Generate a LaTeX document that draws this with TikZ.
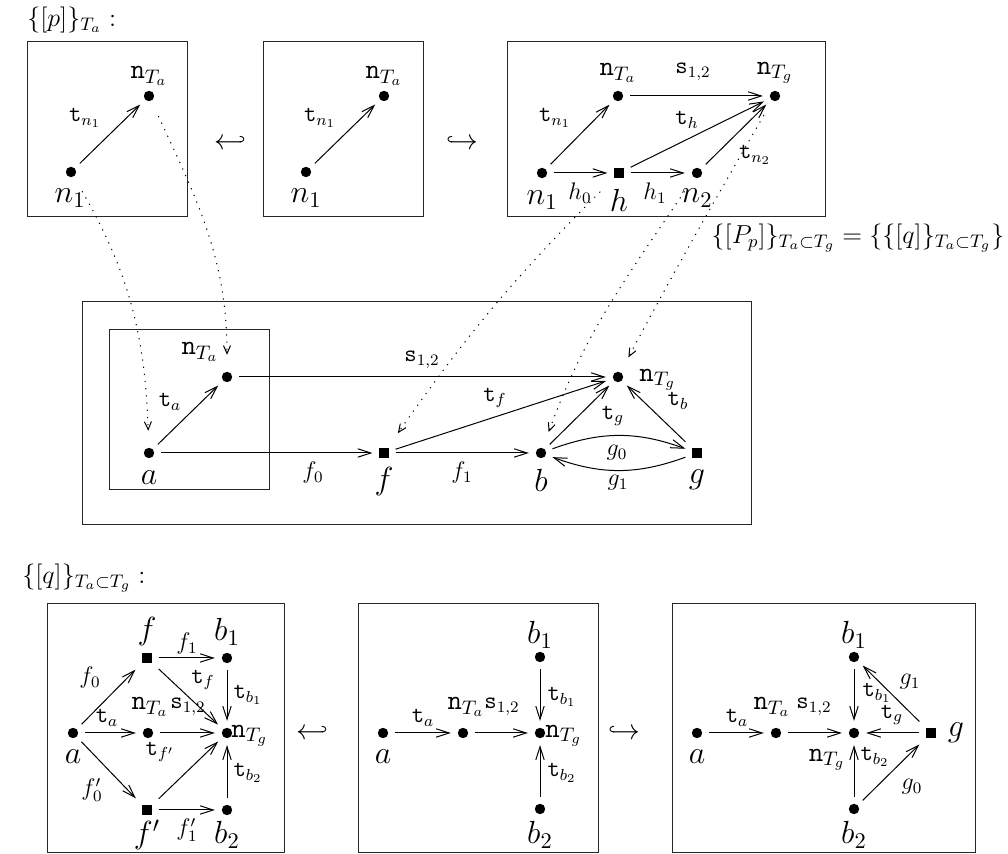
\RequirePackage{fix-cm}
\documentclass[tikz,border=0pt]{standalone}
\usepackage{amsmath,amssymb}
\usepackage{tikz}
\usetikzlibrary{arrows.meta}

\tikzset{
  dotnode/.style={circle, fill, inner sep=0pt, minimum size=5.2pt, outer sep=3.5pt},
  sqnode/.style={rectangle, fill, inner sep=0pt, minimum size=4.6pt, outer sep=3.5pt},
  arr/.style={-{Straight Barb[length=6.5pt,width=4.2pt]}, line width=0.5pt},
  dotarr/.style={-{Straight Barb[length=4pt,width=3.5pt]}, line width=0.5pt,
    dash pattern=on 0.6pt off 3pt, shorten >=5pt, shorten <=5pt},
  boxframe/.style={draw=black!85, line width=0.45pt},
  biglbl/.style={inner sep=0pt, font=\fontsize{16}{18}\selectfont},
  midlbl/.style={inner sep=0pt, font=\fontsize{14}{16}\selectfont},
  elbl/.style={inner sep=0pt, font=\fontsize{12}{14}\selectfont},
  ttl/.style={inner sep=0pt, font=\fontsize{13}{15}\selectfont},
  hook/.style={inner sep=0pt, font=\Large},
}

\begin{document}
\begin{tikzpicture}[x=0.5pt, y=-0.5pt]
\useasboundingbox (0,0) rectangle (1008,854);

% ---- top row: the pattern p and its inclusions
\node[ttl, anchor=west] (ttlp) at (27,20) {$\{[p]\}_{T_a}:$};
\draw[boxframe] (27,41) rectangle (187,216);
\node[dotnode] (n1A) at (71,172) {};
\node[dotnode] (nTaA) at (149,96) {};
\node[biglbl] (ln1A) at (70,198) {$n_1$};
\node[midlbl] (lnTaA) at (149,76) {$\mathtt{n}_{T_a}$};
\draw[arr] (n1A) -- (nTaA);
\node[elbl] (ltA) at (85,118) {$\mathtt{t}_{n_1}$};

\node[hook] (hk1) at (230,143) {$\hookleftarrow$};

\draw[boxframe] (263,41) rectangle (423,216);
\node[dotnode] (n1B) at (306,172) {};
\node[dotnode] (nTaB) at (384,96) {};
\node[biglbl] (ln1B) at (306,198) {$n_1$};
\node[midlbl] (lnTaB) at (384,76) {$\mathtt{n}_{T_a}$};
\draw[arr] (n1B) -- (nTaB);
\node[elbl] (ltB) at (320,118) {$\mathtt{t}_{n_1}$};

\node[hook] (hk2) at (462,143) {$\hookrightarrow$};

\draw[boxframe] (507,41) rectangle (825,216);
\node[dotnode] (n1C) at (542,173) {};
\node[sqnode] (hC) at (619,173) {};
\node[dotnode] (n2C) at (697,173) {};
\node[dotnode] (nTaC) at (618,96) {};
\node[dotnode] (nTgC) at (775,96) {};
\node[biglbl] (ln1C) at (542,200) {$n_1$};
\node[biglbl] (lhC) at (619,200) {$h$};
\node[biglbl] (ln2C) at (697,198) {$n_2$};
\node[midlbl] (lnTaC) at (618,73) {$\mathtt{n}_{T_a}$};
\node[midlbl] (lnTgC) at (775,73) {$\mathtt{n}_{T_g}$};
\draw[arr] (n1C) -- (nTaC);
\draw[arr] (n1C) -- (hC);
\draw[arr] (hC) -- (n2C);
\draw[arr] (nTaC) -- (nTgC);
\draw[arr] (hC) -- (nTgC);
\draw[arr] (n2C) -- (nTgC);
\node[elbl] (ltn1C) at (555,118) {$\mathtt{t}_{n_1}$};
\node[elbl] (lh0C) at (580,193) {$h_0$};
\node[elbl] (lh1C) at (655,193) {$h_1$};
\node[elbl] (ls12C) at (693,72) {$\mathtt{s}_{1,2}$};
\node[elbl] (lthC) at (687,120) {$\mathtt{t}_h$};
\node[elbl] (ltn2C) at (755,155) {$\mathtt{t}_{n_2}$};

\node[ttl] (eqn) at (858,238)
  {$\{[P_p]\}_{T_a\subset T_g} = \{\{[q]\}_{T_a\subset T_g}\}$};

% ---- middle: the pattern P_p
\draw[boxframe] (82,301) rectangle (751,524);
\draw[boxframe] (109,329) rectangle (269,489);
\node[dotnode] (aM) at (149,453) {};
\node[dotnode] (nTaM) at (227,377) {};
\node[sqnode] (fM) at (384,453) {};
\node[dotnode] (bM) at (541,453) {};
\node[sqnode] (gM) at (697,453) {};
\node[dotnode] (nTgM) at (618,377) {};
\node[biglbl] (laM) at (149,478) {$a$};
\node[midlbl] (lnTaM) at (200,352) {$\mathtt{n}_{T_a}$};
\node[biglbl] (lfM) at (384,482) {$f$};
\node[biglbl] (lbM) at (541,480) {$b$};
\node[biglbl] (lgM) at (697,480) {$g$};
\node[midlbl, anchor=west] (lnTgM) at (639,380) {$\mathtt{n}_{T_g}$};
\draw[arr] (aM) -- (nTaM);
\draw[arr] (aM) -- (fM);
\draw[arr] (nTaM) -- (nTgM);
\draw[arr] (fM) -- (nTgM);
\draw[arr] (fM) -- (bM);
\draw[arr] (bM) -- (nTgM);
\draw[arr] (gM) -- (nTgM);
\draw[arr] (bM) to[bend left=20] (gM);
\draw[arr] (gM) to[bend left=20] (bM);
\node[elbl] (ltaM) at (170,402) {$\mathtt{t}_a$};
\node[elbl] (lf0M) at (313,473) {$f_0$};
\node[elbl] (ls12M) at (422,360) {$\mathtt{s}_{1,2}$};
\node[elbl] (ltfM) at (495,398) {$\mathtt{t}_f$};
\node[elbl] (lf1M) at (462,473) {$f_1$};
\node[elbl] (ltgM) at (613,416) {$\mathtt{t}_g$};
\node[elbl] (ltbM) at (678,401) {$\mathtt{t}_b$};
\node[elbl] (lg0M) at (617,453) {$g_0$};
\node[elbl] (lg1M) at (618,483) {$g_1$};

% dotted maps from the top row into P_p
\draw[dotarr] (n1A) to[out=-60, in=92] (aM);
\draw[dotarr] (nTaA) to[out=-65, in=90] (nTaM);
\draw[dotarr] (hC) to[out=-135, in=55] (fM);
\draw[dotarr] (n2C) to[out=-124, in=70] (bM);
\draw[dotarr] (nTgC) to[out=-120, in=62] (nTgM);

% ---- bottom row: the pattern q and its inclusions
\node[ttl, anchor=west] (ttlq) at (22,578) {$\{[q]\}_{T_a\subset T_g}:$};
\draw[boxframe] (47,603) rectangle (284,852);
\node[dotnode] (aD) at (73,733) {};
\node[dotnode] (nTaD) at (148,733) {};
\node[dotnode] (nTgD) at (227,733) {};
\node[sqnode] (fD) at (147,658) {};
\node[dotnode] (b1D) at (227,658) {};
\node[sqnode] (fpD) at (147,810) {};
\node[dotnode] (b2D) at (227,810) {};
\node[biglbl] (laD) at (73,757) {$a$};
\node[midlbl] (lnTaD) at (150,707) {$\mathtt{n}_{T_a}$};
\node[midlbl, anchor=west] (lnTgD) at (231,736) {$\mathtt{n}_{T_g}$};
\node[biglbl] (lfD) at (147,632) {$f$};
\node[biglbl] (lb1D) at (227,632) {$b_1$};
\node[biglbl] (lfpD) at (147,835) {$f'$};
\node[biglbl] (lb2D) at (227,835) {$b_2$};
\draw[arr] (aD) -- (fD);
\draw[arr] (aD) -- (nTaD);
\draw[arr] (aD) -- (fpD);
\draw[arr] (fD) -- (b1D);
\draw[arr] (fD) -- (nTgD);
\draw[arr] (nTaD) -- (nTgD);
\draw[arr] (fpD) -- (nTgD);
\draw[arr] (fpD) -- (b2D);
\draw[arr] (b1D) -- (nTgD);
\draw[arr] (b2D) -- (nTgD);
\node[elbl] (lf0D) at (90,678) {$f_0$};
\node[elbl] (ltaD) at (107,718) {$\mathtt{t}_a$};
\node[elbl] (lf0pD) at (92,790) {$f'_0$};
\node[elbl] (lf1D) at (187,644) {$f_1$};
\node[elbl] (ltfD) at (203,680) {$\mathtt{t}_f$};
\node[elbl] (ls12D) at (188,707) {$\mathtt{s}_{1,2}$};
\node[elbl] (ltfpD) at (160,752) {$\mathtt{t}_{f'}$};
\node[elbl] (lf1pD) at (187,830) {$f'_1$};
\node[elbl] (ltb1D) at (248,695) {$\mathtt{t}_{b_1}$};
\node[elbl] (ltb2D) at (248,773) {$\mathtt{t}_{b_2}$};

\node[hook] (hk3) at (312,733) {$\hookleftarrow$};

\draw[boxframe] (358,603) rectangle (598,852);
\node[dotnode] (aE) at (383,733) {};
\node[dotnode] (nTaE) at (463,733) {};
\node[dotnode] (nTgE) at (540,733) {};
\node[dotnode] (b1E) at (540,657) {};
\node[dotnode] (b2E) at (540,809) {};
\node[biglbl] (laE) at (383,757) {$a$};
\node[midlbl] (lnTaE) at (466,707) {$\mathtt{n}_{T_a}$};
\node[midlbl, anchor=west] (lnTgE) at (545,736) {$\mathtt{n}_{T_g}$};
\node[biglbl] (lb1E) at (540,635) {$b_1$};
\node[biglbl] (lb2E) at (540,835) {$b_2$};
\draw[arr] (aE) -- (nTaE);
\draw[arr] (nTaE) -- (nTgE);
\draw[arr] (b1E) -- (nTgE);
\draw[arr] (b2E) -- (nTgE);
\node[elbl] (ltaE) at (423,718) {$\mathtt{t}_a$};
\node[elbl] (ls12E) at (502,707) {$\mathtt{s}_{1,2}$};
\node[elbl] (ltb1E) at (562,697) {$\mathtt{t}_{b_1}$};
\node[elbl] (ltb2E) at (562,773) {$\mathtt{t}_{b_2}$};

\node[hook] (hk4) at (624,733) {$\hookrightarrow$};

\draw[boxframe] (672,603) rectangle (975,852);
\node[dotnode] (aF) at (697,733) {};
\node[dotnode] (nTaF) at (776,733) {};
\node[dotnode] (nTgF) at (854,733) {};
\node[sqnode] (gF) at (931,733) {};
\node[dotnode] (b1F) at (854,657) {};
\node[dotnode] (b2F) at (854,809) {};
\node[biglbl] (laF) at (697,757) {$a$};
\node[midlbl] (lnTaF) at (772,707) {$\mathtt{n}_{T_a}$};
\node[midlbl] (lnTgF) at (827,760) {$\mathtt{n}_{T_g}$};
\node[biglbl] (lgF) at (956,733) {$g$};
\node[biglbl] (lb1F) at (854,635) {$b_1$};
\node[biglbl] (lb2F) at (854,835) {$b_2$};
\draw[arr] (aF) -- (nTaF);
\draw[arr] (nTaF) -- (nTgF);
\draw[arr] (b1F) -- (nTgF);
\draw[arr] (b2F) -- (nTgF);
\draw[arr] (gF) -- (nTgF);
\draw[arr] (gF) -- (b1F);
\draw[arr] (b2F) -- (gF);
\node[elbl] (ltaF) at (737,718) {$\mathtt{t}_a$};
\node[elbl] (ls12F) at (814,707) {$\mathtt{s}_{1,2}$};
\node[elbl] (ltb1F) at (877,693) {$\mathtt{t}_{b_1}$};
\node[elbl] (ltgF) at (892,715) {$\mathtt{t}_g$};
\node[elbl] (lg1F) at (910,682) {$g_1$};
\node[elbl] (ltb2F) at (875,757) {$\mathtt{t}_{b_2}$};
\node[elbl] (lg0F) at (912,787) {$g_0$};
\end{tikzpicture}
\end{document}
